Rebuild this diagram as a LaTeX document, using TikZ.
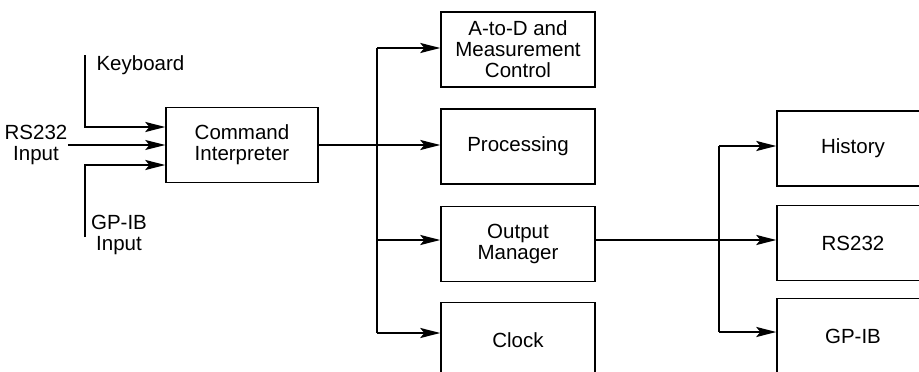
\documentclass[tikz,border=0pt]{standalone}
\usepackage{fontspec}
\setmainfont{Liberation Sans}
\usetikzlibrary{positioning,arrows.meta}

\begin{document}
\begin{tikzpicture}[x=1pt,y=-1pt,>={Stealth[length=20pt,width=10pt,inset=4pt]},
  blk/.style={draw,line width=1.4pt,minimum width=154pt,minimum height=75pt,align=center,font=\fontsize{20.5}{21}\selectfont},
  lbl/.style={align=center,font=\fontsize{20.5}{21}\selectfont},
  wire/.style={line width=2.3pt}]
\useasboundingbox (0,0) rectangle (919,372);
\clip (0,0) rectangle (919,372);
% boxes
\node[blk,minimum width=152pt] (ci) at (242,145) {Command\\Interpreter};
\node[blk] (adc) at (518,49.5) {A-to-D and\\Measurement\\Control};
\node[blk] (proc) at (518,146.5) {Processing};
\node[blk] (om) at (518,244) {Output\\Manager};
\node[blk] (clk) at (518,340) {Clock};
\node[blk,minimum width=152pt] (hist) at (853,148.5) {History};
\node[blk,minimum width=152pt] (rs) at (853,243) {RS232};
\node[blk,minimum width=152pt] (gp) at (853,336) {GP-IB};
% inputs
\node[lbl,anchor=west] (kbd) at (93,65) {Keyboard};
\node[lbl] (rsin) at (36,145) {RS232\\Input};
\node[lbl] (gpin) at (119,235) {GP-IB\\Input};
\coordinate (kbtop) at (85,55);
\coordinate (gpbot) at (85,237);
\draw[wire,->] (kbtop) |- ([yshift=18pt]ci.west);
\draw[line width=1.2pt,->] ([xshift=-3pt]rsin.east) -- (rsin.east -| ci.west);
\draw[wire,->] (gpbot) |- ([yshift=-20pt]ci.west);
% first bus
\coordinate (b1) at (377,48);
\coordinate (b3) at (377,240);
\coordinate (b4) at (377,333);
\draw[wire] (b1) -- (b4);
\draw[wire,->] (ci.east) -- (ci.east -| proc.west);
\draw[wire,->] (b1) -- (b1 -| adc.west);
\draw[wire,->] (b3) -- (b3 -| om.west);
\draw[wire,->] (b4) -- (b4 -| clk.west);
% second bus
\coordinate (r1) at (719,146);
\coordinate (r2) at (719,240);
\coordinate (r3) at (719,332);
\draw[wire] (r1) -- (r3);
\draw[wire,->] (r2 -| om.east) -- (r2 -| rs.west);
\draw[wire,->] (r1) -- (r1 -| hist.west);
\draw[wire,->] (r3) -- (r3 -| gp.west);
\end{tikzpicture}
\end{document}
